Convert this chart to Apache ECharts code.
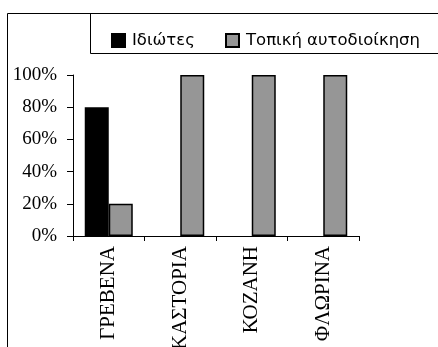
<!DOCTYPE html>
<html>
<head>
<meta charset="utf-8">
<script src="https://cdn.jsdelivr.net/npm/echarts@6/dist/echarts.min.js"></script>
<style>
html,body{margin:0;padding:0;background:#fff;}
#chart{width:438px;height:347px;}
</style>
</head>
<body>
<div id="chart"></div>
<script>
const categories = ['ΓΡΕΒΕΝΑ', 'ΚΑΣΤΟΡΙΑ', 'ΚΟΖΑΝΗ', 'ΦΛΩΡΙΝΑ'];
const seriesNames = ['Ιδιώτες', 'Τοπική αυτοδιοίκηση'];
const privateValues = [80, 0, 0, 0];
const localGovValues = [20, 100, 100, 100];
const yTicks = [0, 20, 40, 60, 80, 100];

const hideZero = arr => arr.map(v => v === 0 ? '-' : v);
const legendText = {fontFamily: 'DejaVu Sans', fontSize: 16.5, color: '#000', padding: [0, 0, 0, 2]};

const chart = echarts.init(document.getElementById('chart'), null, {renderer: 'canvas'});
chart.setOption({
  animation: false,
  backgroundColor: '#fff',
  graphic: [
    {type: 'rect', shape: {x: 7.5, y: 13.5, width: 600, height: 600}, style: {fill: 'none', stroke: '#000', lineWidth: 1}, z: 0},
    {type: 'rect', shape: {x: 90.5, y: 13.5, width: 600, height: 40}, style: {fill: 'none', stroke: '#000', lineWidth: 1}, z: 0}
  ],
  legend: [
    {left: 106, top: 27, itemWidth: 13, itemHeight: 13, icon: 'rect', textStyle: legendText, data: [seriesNames[0]]},
    {left: 220, top: 27, itemWidth: 13, itemHeight: 13, icon: 'rect', textStyle: legendText, data: [seriesNames[1]]}
  ],
  grid: {left: 73, top: 75, right: 79, bottom: 111, containLabel: false, outerBoundsMode: 'none'},
  xAxis: {
    type: 'category',
    data: categories,
    axisLine: {lineStyle: {color: '#000', width: 1}},
    axisTick: {show: true, alignWithLabel: false, length: 5, inside: false, lineStyle: {color: '#000'}},
    axisLabel: {rotate: 90, margin: 10, fontFamily: 'Liberation Serif', fontSize: 21, color: '#000', interval: 0}
  },
  yAxis: {
    type: 'value',
    min: 0, max: 100, interval: 20,
    axisLine: {show: true, lineStyle: {color: '#000', width: 1}},
    axisTick: {show: true, length: 6, lineStyle: {color: '#000'}},
    splitLine: {show: false},
    axisLabel: {formatter: v => yTicks.includes(v) ? v + '%' : '', margin: 16, fontFamily: 'Liberation Serif', fontSize: 19, color: '#000'}
  },
  series: [
    {name: seriesNames[0], type: 'bar', data: hideZero(privateValues), barWidth: 24, barGap: '0%',
     itemStyle: {color: '#000', borderColor: '#000', borderWidth: 1.5}},
    {name: seriesNames[1], type: 'bar', data: hideZero(localGovValues), barWidth: 24, barGap: '0%',
     itemStyle: {color: '#969696', borderColor: '#000', borderWidth: 1.5}}
  ]
});
</script>
</body>
</html>
